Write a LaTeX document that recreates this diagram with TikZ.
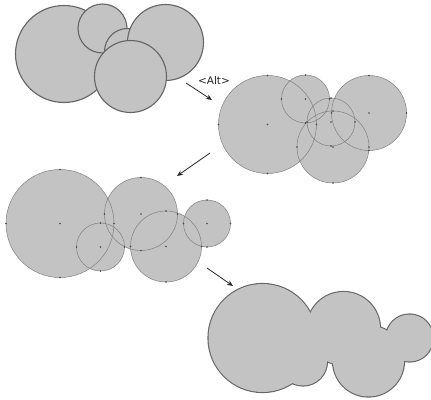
\documentclass[tikz,border=0pt]{standalone}
\usepackage{fontspec}
\newfontfamily\altfont{DejaVu Sans}
\usetikzlibrary{arrows.meta}
\definecolor{blobfill}{RGB}{195,195,195}
\definecolor{blobline}{RGB}{100,100,100}
\definecolor{thinline}{RGB}{128,128,128}
\definecolor{gripdot}{RGB}{70,70,70}
\definecolor{arrowcol}{RGB}{40,40,40}
\begin{document}
\begin{tikzpicture}[x=1pt,y=-1pt,
  solidcirc/.style={fill=blobfill,draw=blobline,line width=1.1pt},
  thincirc/.style={draw=thinline,line width=0.5pt},
  grip/.style={fill=gripdot},
  outlinecirc/.style={draw=blobline,line width=2.2pt},
  fillcirc/.style={fill=blobfill},
  movearrow/.style={draw=arrowcol,line width=0.8pt,-{Stealth[length=6pt,width=5pt]}},
  altlabel/.style={font=\altfont\fontsize{10.5}{12}\selectfont,text=black!85,inner sep=0pt}]
\useasboundingbox (0,0) rectangle (431,399);
\fill[white] (0,0) rectangle (431,399);

% ---- stage 1: overlapping opaque circles
\foreach \cx/\cy/\r in {64/54/48.5, 102.5/28.5/24.5, 127.5/51.5/23, 165.5/42.5/38, 130.5/76.5/36}
  \draw[solidcirc] (\cx,\cy) circle[radius=\r];

% ---- stage 2: selected circles, transparent outlines
\def\stagetwo{267.5/124.5/49, 305.5/99/24, 331/122/24, 369/113/37.5, 333/147/36}
\foreach \cx/\cy/\r in \stagetwo
  \fill[fillcirc] (\cx,\cy) circle[radius=\r];
\foreach \cx/\cy/\r in \stagetwo
  \draw[thincirc] (\cx,\cy) circle[radius=\r];
\foreach \cx/\cy/\r in \stagetwo {
  \fill[grip] (\cx,\cy) circle[radius=0.9];
  \fill[grip] (\cx-\r,\cy) circle[radius=0.9];
  \fill[grip] (\cx+\r,\cy) circle[radius=0.9];
  \fill[grip] (\cx,\cy-\r) circle[radius=0.9];
  \fill[grip] (\cx,\cy+\r) circle[radius=0.9];
}

% ---- stage 3: rearranged circles
\def\stagethree{60/223.5/54, 141/214/36.5, 100.5/247/24, 166/246.5/35.5, 207/223.5/23.5}
\foreach \cx/\cy/\r in \stagethree
  \fill[fillcirc] (\cx,\cy) circle[radius=\r];
\foreach \cx/\cy/\r in \stagethree
  \draw[thincirc] (\cx,\cy) circle[radius=\r];
\foreach \cx/\cy/\r in \stagethree {
  \fill[grip] (\cx,\cy) circle[radius=0.9];
  \fill[grip] (\cx-\r,\cy) circle[radius=0.9];
  \fill[grip] (\cx+\r,\cy) circle[radius=0.9];
  \fill[grip] (\cx,\cy-\r) circle[radius=0.9];
  \fill[grip] (\cx,\cy+\r) circle[radius=0.9];
}

% ---- stage 4: union of the stage-3 circles
\begin{scope}[shift={(202.5,114.5)}]
\foreach \cx/\cy/\r in \stagethree
  \draw[outlinecirc] (\cx,\cy) circle[radius=\r];
\foreach \cx/\cy/\r in \stagethree
  \fill[fillcirc] (\cx,\cy) circle[radius=\r];
\end{scope}

% ---- arrows and label
\coordinate (a1s) at (186,83);
\coordinate (a1e) at (212,100);
\coordinate (a2s) at (210,153);
\coordinate (a2e) at (177,176);
\coordinate (a3s) at (207,268);
\coordinate (a3e) at (233,286);
\draw[movearrow] (a1s) -- (a1e);
\draw[movearrow] (a2s) -- (a2e);
\draw[movearrow] (a3s) -- (a3e);
\node[altlabel] (alt) at (214,81) {<Alt>};
\end{tikzpicture}
\end{document}
